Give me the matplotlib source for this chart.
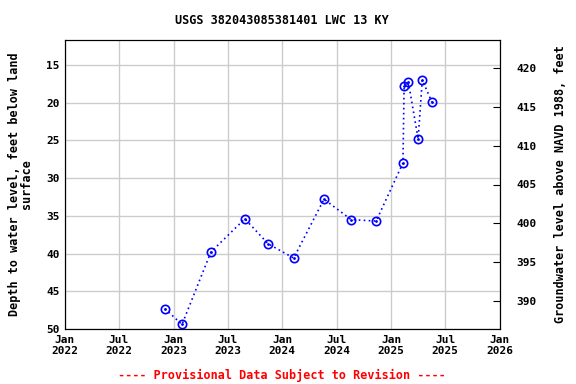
import datetime
import matplotlib
matplotlib.use("Agg")
import matplotlib.pyplot as plt
import matplotlib.dates as mdates

# measurement dates and depth to water (ft below land surface)
dates = [
    "2022-12-02", "2023-01-29", "2023-05-06", "2023-08-28", "2023-11-14",
    "2024-02-08", "2024-05-20", "2024-08-19", "2024-11-11", "2025-02-09",
    "2025-02-13", "2025-02-27", "2025-04-01", "2025-04-15", "2025-05-17",
]
depths = [
    47.3, 49.4, 39.8, 35.4, 38.7,
    40.6, 32.8, 35.5, 35.7, 28.0,
    17.8, 17.2, 24.8, 17.0, 19.9,
]
depth_ticks = [15, 20, 25, 30, 35, 40, 45, 50]
elev_ticks = [390, 395, 400, 405, 410, 415, 420]
x_ticks = [
    "2022-01-01", "2022-07-01", "2023-01-01", "2023-07-01", "2024-01-01",
    "2024-07-01", "2025-01-01", "2025-07-01", "2026-01-01",
]

MONO = "DejaVu Sans Mono"
BLUE = "#0000ff"

ts = [datetime.datetime.fromisoformat(d) for d in dates]
xt = [datetime.datetime.fromisoformat(d) for d in x_ticks]

fig = plt.figure(figsize=(5.76, 3.84), dpi=100)
ax = fig.add_axes([65 / 576, 1 - 329 / 384, 435 / 576, 289 / 384])

ax.plot(ts, depths, linestyle=(0, (1, 2)), color=BLUE, linewidth=1.2,
        marker="o", markersize=6, markerfacecolor="none",
        markeredgecolor=BLUE, markeredgewidth=1.2)
ax.plot(ts, depths, linestyle="none", marker=".", markersize=2, color=BLUE)

ax.set_xlim(xt[0], xt[-1])
ax.set_ylim(50, 11.7)
ax.set_yticks(depth_ticks)
ax.set_xticks(xt)
ax.xaxis.set_major_formatter(mdates.DateFormatter("%b\n%Y"))
ax.grid(True, color="#cccccc", linewidth=1)
ax.set_axisbelow(True)
ax.tick_params(length=0, pad=4)
for lab in ax.get_xticklabels() + ax.get_yticklabels():
    lab.set_fontfamily(MONO)
    lab.set_fontweight("bold")
    lab.set_fontsize(8)

ax.set_ylabel("Depth to water level, feet below land\nsurface",
              fontfamily=MONO, fontweight="bold", fontsize=8.5,
              linespacing=0.9, labelpad=9)

ax2 = ax.twinx()
ax2.set_ylim(386.35, 423.65)
ax2.set_yticks(elev_ticks)
ax2.tick_params(direction="in", length=5, pad=12)
for lab in ax2.get_yticklabels():
    lab.set_fontfamily(MONO)
    lab.set_fontweight("bold")
    lab.set_fontsize(8)
ax2.set_ylabel("Groundwater level above NAVD 1988, feet",
               fontfamily=MONO, fontweight="bold", fontsize=8.5, labelpad=12)

fig.text(282 / 576, 1 - 20 / 384, "USGS 382043085381401 LWC 13 KY",
         ha="center", va="center", fontfamily=MONO, fontweight="bold", fontsize=8.5)
fig.text(282 / 576, 1 - 375 / 384, "---- Provisional Data Subject to Revision ----",
         ha="center", va="center", color="red", fontfamily=MONO,
         fontweight="bold", fontsize=8.5)

fig.savefig("out.png", dpi=100)
